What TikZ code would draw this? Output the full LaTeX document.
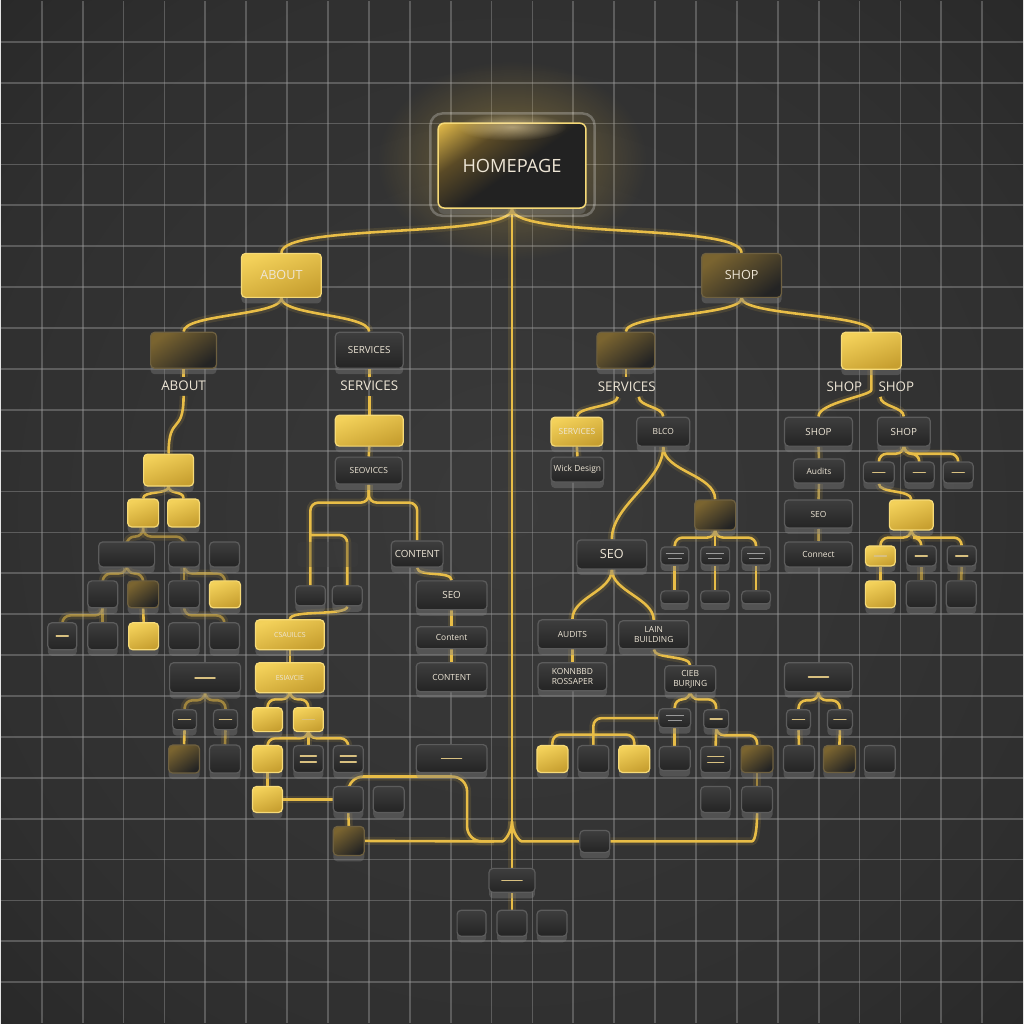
\documentclass[tikz,border=0pt]{standalone}
\usepackage{fontspec}
\setmainfont{Open Sans}
\usetikzlibrary{shadows,fadings}
\definecolor{bgin}{HTML}{3A3A3A}
\definecolor{bgmid}{HTML}{2F2F2F}
\definecolor{bgout}{HTML}{1C1C1C}
\definecolor{gridc}{HTML}{9A9A9A}
\definecolor{wirec}{HTML}{E8BD47}
\definecolor{txt}{HTML}{EEE6D6}
\definecolor{dkA}{HTML}{3E3E3E}
\definecolor{dkB}{HTML}{242424}
\definecolor{dkE}{HTML}{5C5C5C}
\definecolor{gdA}{HTML}{F3D15A}
\definecolor{gdB}{HTML}{C79F30}
\definecolor{gdE}{HTML}{F6DA78}
\definecolor{glA}{HTML}{7A6430}
\definecolor{glE}{HTML}{6E6040}
\definecolor{hmA}{HTML}{E0B848}
\definecolor{hmM}{HTML}{5A4A26}
\definecolor{hmB}{HTML}{222222}
\definecolor{dashc}{HTML}{D8C080}
\pgfdeclareradialshading{vign}{\pgfpoint{0bp}{0bp}}{color(0bp)=(bgin); color(28bp)=(bgmid); color(52bp)=(bgout); color(72bp)=(bgout)}
\pgfdeclareverticalshading{homeshade}{100bp}{color(0bp)=(hmB); color(48bp)=(hmB); color(66bp)=(hmM); color(84bp)=(hmA); color(100bp)=(hmA)}
\tikzfading[name=glowfade, inner color=transparent!0, outer color=transparent!100]
\pgfdeclarelayer{back}
\pgfdeclarelayer{wires}
\pgfsetlayers{back,wires,main}

\begin{document}
\begin{tikzpicture}[x=0.1mm,y=-0.1mm,
        box/.style={rectangle,rounded corners=0.4mm,inner sep=0pt,align=center,text=txt,
            font=\fontsize{2.8}{3.2}\selectfont,
            drop shadow={shadow xshift=0mm,shadow yshift=-0.6mm,opacity=0.4}},
        sz/.style 2 args={minimum width=#1*0.1mm,minimum height=#2*0.1mm},
        dbox/.style={box,top color=dkA,bottom color=dkB,draw=dkE,line width=0.12mm},
        gbox/.style={box,top color=gdA,bottom color=gdB,shading angle=20,draw=gdE,line width=0.12mm},
        sbox/.style={box,top color=glA,bottom color=dkB,shading angle=35,draw=glE,line width=0.12mm},
        hbox/.style={box,rounded corners=0.6mm,shade,shading=homeshade,shading angle=35,
            draw=gdE,line width=0.15mm,font=\fontsize{5.2}{6}\selectfont},
        mid/.style={font=\fontsize{3.6}{4}\selectfont},
        sm/.style={font=\fontsize{2.4}{2.8}\selectfont},
        wee/.style={font=\fontsize{2}{2.4}\selectfont},
        lab/.style={inner sep=0.4mm,text=txt,font=\fontsize{3.8}{4.2}\selectfont},
        wire/.style={draw=wirec,line width=0.26mm,rounded corners=0.8mm,
            preaction={draw=wirec,line width=0.8mm,opacity=0.12}},
        dimwire/.style={wire,opacity=0.55},
        gridln/.style={draw=gridc,line width=0.18mm,opacity=0.42},
        dashln/.style={draw=dashc,line width=0.16mm,line cap=round},
        weeln/.style={draw=gridc,line width=0.1mm},
        br/.style={to path={.. controls +(0,#1) and +(0,-#1) .. (\tikztotarget) \tikztonodes}},
        br/.default=15,
        ob/.style={to path={-- ++(0,#1) -| (\tikztotarget) \tikztonodes}},
        ob/.default=7
        ]
        \begin{pgfonlayer}{back}
        \shade[shading=vign] (0,0) rectangle (1024,1024);
        \foreach \k in {1,...,24} {
            \draw[gridln] (\k*40.96,0) -- (\k*40.96,1024);
            \draw[gridln] (0,\k*40.96) -- (1024,\k*40.96);
        }
        \fill[wirec,opacity=0.4,path fading=glowfade] (512,160) ellipse (135 and 100);
        \end{pgfonlayer}
        \useasboundingbox (0,0) rectangle (1024,1024);

        % top
        \node[hbox,sz={148}{85}] (home) at (512,165) {HOMEPAGE};
        \draw[white,opacity=0.25,line width=0.25mm,rounded corners=1.2mm]
            ([xshift=-0.7mm,yshift=0.9mm]home.north west) rectangle ([xshift=0.8mm,yshift=-0.7mm]home.south east);
        \fill[wirec!40!white,opacity=0.55,path fading=glowfade] (512,126) ellipse (55 and 14);
        \node[gbox,sz={80}{44},mid] (about) at (281,275) {ABOUT};
        \node[sbox,sz={80}{44},mid] (shop) at (742,275) {SHOP};

        % about branch
        \node[sbox,sz={66}{36}] (ab) at (183,350) {};
        \node[lab] (abl) at (183,386) {ABOUT};
        \node[dbox,sz={68}{36}] (sv) at (369,350) {SERVICES};
        \node[lab] (svl) at (369,386) {SERVICES};
        \node[gbox,sz={50}{32}] (ag) at (168,470) {};
        \node[gbox,sz={31}{28}] (ag1) at (142.5,513) {};
        \node[gbox,sz={32}{28}] (ag2) at (183,513) {};
        \node[dbox,sz={56}{25}] (rw1) at (126,554.5) {};
        \node[dbox,sz={31}{25}] (rw2) at (183.5,554.5) {};
        \node[dbox,sz={30}{25}] (rw3) at (224,554.5) {};
        \node[dbox,sz={30}{27}] (q1) at (102,594.5) {};
        \node[sbox,sz={31}{27}] (q2) at (142.5,594.5) {};
        \node[dbox,sz={31}{27}] (q3) at (183.5,594.5) {};
        \node[gbox,sz={31}{27}] (q4) at (224.5,594.5) {};
        \node[dbox,sz={29}{27}] (p1) at (61.5,636.5) {};
        \node[dbox,sz={30}{27}] (p2) at (102,636.5) {};
        \node[gbox,sz={30}{27}] (p3) at (143,636.5) {};
        \node[dbox,sz={31}{27}] (p4) at (183.5,636.5) {};
        \node[dbox,sz={30}{27}] (p5) at (224,636.5) {};

        % services branch
        \node[gbox,sz={68}{31}] (sg) at (369,430.5) {};
        \node[dbox,sz={67}{27},sm] (sd) at (368.5,470.5) {SEOVICCS};
        \node[rectangle,rounded corners=0.4mm,fill=dkA,fill opacity=0.35,sz={61}{25}] (fb) at (327.5,554.5) {};
        \node[dbox,sz={30}{20}] (k1) at (310,596) {};
        \node[dbox,sz={30}{20}] (k2) at (347,596) {};
        \node[dbox,sz={52}{26}] (ct) at (417,554) {CONTENT};
        \node[dbox,sz={71}{29}] (so) at (451.5,595.5) {SEO};
        \node[dbox,sz={71}{22},sm] (cm) at (451.5,638) {Content};
        \node[dbox,sz={71}{29},sm] (cc) at (451.5,677.5) {CONTENT};
        \node[gbox,sz={69}{30},wee] (lg1) at (289.5,635) {CSAUILCS};
        \node[gbox,sz={69}{30},wee] (lg2) at (289.5,678) {ESIAVCIE};
        \node[dbox,sz={71}{30}] (dk) at (204.5,678) {};
        \node[dbox,sz={24}{20}] (sm1) at (184,720) {};
        \node[dbox,sz={24}{20}] (sm2) at (225,720) {};
        \node[sbox,sz={31}{28}] (b1) at (183.5,759.5) {};
        \node[dbox,sz={31}{28}] (b2) at (224.5,759.5) {};
        \node[gbox,sz={30}{24}] (g3a) at (267,720) {};
        \node[gbox,sz={30}{24}] (g3b) at (308,720) {};
        \node[gbox,sz={30}{27}] (b3) at (267,759.5) {};
        \node[dbox,sz={30}{27}] (b4) at (308,759.5) {};
        \node[dbox,sz={30}{27}] (b5) at (348,759.5) {};
        \node[gbox,sz={30}{26}] (b6) at (267,800) {};
        \node[dbox,sz={30}{26}] (b7) at (348,800) {};
        \node[dbox,sz={31}{26}] (b8) at (388.5,800) {};
        \node[sbox,sz={31}{29}] (b9) at (348.5,841.5) {};
        \node[dbox,sz={71}{28}] (c4) at (451.5,759) {};

        % hub
        \node[dbox,sz={46}{24}] (hub) at (512,881) {};
        \node[dbox,sz={29}{26}] (bt1) at (471.5,924) {};
        \node[dbox,sz={30}{26}] (bt2) at (512,924) {};
        \node[dbox,sz={30}{26}] (bt3) at (552,924) {};
        \node[dbox,sz={30}{22}] (mb) at (595,842) {};
        \coordinate (jt) at (512,822);
        \coordinate (jl) at (494,842);
        \coordinate (jr) at (530,842);
        \coordinate (rr) at (744,842);
        \coordinate (lv) at (467,777);
        \coordinate (kj) at (310,535);

        % shop branch
        \node[sbox,sz={58}{36}] (sv2) at (626,350) {};
        \node[lab] (sv2l) at (627,387) {SERVICES};
        \node[gbox,sz={60}{37}] (sg2) at (872,350.5) {};
        \node[gbox,sz={52}{29},sm] (ws) at (577,431.5) {SERVICES};
        \node[dbox,sz={53}{29},sm] (bl) at (663.5,431.5) {BLCO};
        \node[dbox,sz={53}{25},sm] (wd) at (577.5,469.5) {Wick Design};
        \node[dbox,sz={70}{29},mid] (seo) at (612,554.5) {SEO};
        \node[sbox,sz={41}{30}] (gl) at (715.5,515) {};
        \node[dbox,sz={28}{18}] (t1) at (675,556) {};
        \node[dbox,sz={29}{18}] (t2) at (715.5,556) {};
        \node[dbox,sz={29}{18}] (t3) at (756.5,556) {};
        \node[dbox,sz={28}{13}] (u1) at (675,597.5) {};
        \node[dbox,sz={29}{13}] (u2) at (715.5,597.5) {};
        \node[dbox,sz={29}{13}] (u3) at (756.5,597.5) {};
        \node[dbox,sz={69}{29},sm] (au) at (572.5,634.5) {AUDITS};
        \node[dbox,sz={70}{28},sm] (lb) at (654,635) {LAIN\\BUILDING};
        \node[dbox,sz={69}{28},sm] (kr) at (572.5,677) {KONNBBD\\ROSSAPER};
        \node[dbox,sz={51}{27},sm] (cb) at (690.5,679.5) {CIEB\\BURJING};
        \node[dbox,sz={32}{19}] (tt) at (675,718.5) {};
        \node[dbox,sz={25}{19}] (td) at (716.5,719.5) {};
        \node[gbox,sz={31}{27}] (g4) at (552.5,759.5) {};
        \node[dbox,sz={31}{27}] (g5) at (593.5,759.5) {};
        \node[gbox,sz={31}{27}] (g6) at (634.5,759.5) {};
        \node[dbox,sz={31}{24}] (v1) at (675,759) {};
        \node[dbox,sz={30}{26}] (v2) at (716,760) {};
        \node[sbox,sz={32}{27}] (v3) at (757.5,759.5) {};
        \node[dbox,sz={30}{26}] (rb1) at (716,800) {};
        \node[dbox,sz={31}{26}] (rb2) at (757.5,800) {};
        \coordinate (gb) at (593.5,735);

        \node[lab] (sl1) at (845,387) {SHOP};
        \node[lab] (sl2) at (897,387) {SHOP};
        \node[dbox,sz={68}{29}] (sh1) at (819,431.5) {SHOP};
        \node[dbox,sz={53}{29}] (sh2) at (904.5,431.5) {SHOP};
        \node[dbox,sz={51}{24},sm] (ad) at (819.5,471) {Audits};
        \node[dbox,sz={68}{28},sm] (se) at (819,514) {SEO};
        \node[dbox,sz={68}{25},sm] (cn) at (819,554.5) {Connect};
        \node[dbox,sz={31}{21}] (d1) at (879.5,472.5) {};
        \node[dbox,sz={30}{21}] (d2) at (920,472.5) {};
        \node[dbox,sz={30}{21}] (d3) at (959,472.5) {};
        \node[gbox,sz={44}{30}] (sg3) at (912,515) {};
        \node[gbox,sz={30}{20}] (e1) at (881,556) {};
        \node[dbox,sz={30}{20}] (e2) at (922,556) {};
        \node[dbox,sz={29}{20}] (e3) at (962.5,556) {};
        \node[gbox,sz={30}{27}] (f1) at (881,594.5) {};
        \node[dbox,sz={30}{27}] (f2) at (922,594.5) {};
        \node[dbox,sz={30}{27}] (f3) at (962,594.5) {};
        \node[dbox,sz={68}{29}] (rb) at (819,677.5) {};
        \node[dbox,sz={24}{20}] (m1) at (799,720) {};
        \node[dbox,sz={25}{20}] (m2) at (840.5,720) {};
        \node[dbox,sz={31}{27}] (n1) at (799.5,759.5) {};
        \node[sbox,sz={32}{27}] (n2) at (840,759.5) {};
        \node[dbox,sz={31}{27}] (n3) at (880.5,759.5) {};

        % marks inside boxes
        \foreach \n in {p1,sm1,sm2,g3b,e1,e2,e3,d1,d2,d3,td,m1,m2}
            \draw[dashln] ([xshift=-0.6mm]\n.center) -- ([xshift=0.6mm]\n.center);
        \foreach \n in {dk,rb,c4,hub}
            \draw[dashln] ([xshift=-1mm]\n.center) -- ([xshift=1mm]\n.center);
        \foreach \n in {b4,b5,v2} {
            \draw[dashln] ([xshift=-0.8mm,yshift=0.3mm]\n.center) -- ([xshift=0.8mm,yshift=0.3mm]\n.center);
            \draw[dashln] ([xshift=-0.8mm,yshift=-0.3mm]\n.center) -- ([xshift=0.8mm,yshift=-0.3mm]\n.center);
        }
        \foreach \n in {t1,t2,t3,tt} {
            \draw[weeln] ([xshift=-0.9mm,yshift=0.25mm]\n.center) -- ([xshift=0.9mm,yshift=0.25mm]\n.center);
            \draw[weeln] ([xshift=-0.7mm,yshift=-0.25mm]\n.center) -- ([xshift=0.7mm,yshift=-0.25mm]\n.center);
        }

        \begin{pgfonlayer}{wires}
        \draw[wire] (home.south) to[br=30] (about.north);
        \draw[wire] (home.south) to[br=30] (shop.north);
        \draw[wire] (home.south) -- (hub.north);
        \draw[wire] (hub.south) -- (bt2.north);
        \draw[wire] (about.south) to[br=18] (ab.north);
        \draw[wire] (about.south) to[br=18] (sv.north);
        \draw[wire] (ab.south) -- ++(0,8);
        \draw[wire] (abl.south) to[br=40] (ag.north);
        \draw[wire] (ag.south) to[br=8] (ag1.north);
        \draw[wire] (ag.south) to[br=8] (ag2.north);
        \draw[dimwire] (ag1.south) to[ob=9] (rw1.north);
        \draw[dimwire] (ag1.south) to[ob=9] (rw2.north);
        \draw[dimwire] (rw1.south) to[ob=6] (q1.north);
        \draw[dimwire] (rw1.south) to[ob=6] (q2.north);
        \draw[dimwire] (rw2.south) -- (q3.north);
        \draw[dimwire] (rw2.south) to[ob=6] (q4.north);
        \draw[wire] (q2.south) -- (p3.north);
        \draw[dimwire] (q1.south) to[ob=7] (p1.north);
        \draw[dimwire] (q1.south) -- (p2.north);
        \draw[dimwire] (q3.south) to[ob=7] (p5.north);

        \draw[wire] (sv.south) -- ++(0,8);
        \draw[wire] (svl.south) -- (sg.north);
        \draw[wire] (sg.south) -- (sd.north);
        \draw[wire] (sd.south) to[ob=18] (k1.north);
        \draw[wire] (sd.south) to[ob=18] (ct.north);
        \draw[wire] (kj) -| (k2.north);
        \draw[wire] (ct.south) to[br=10] (so.north);
        \draw[wire] (so.south) -- (cm.north);
        \draw[wire] (cm.south) -- (cc.north);
        \draw[wire] (k2.south) to[br=10] (lg1.north);
        \draw[wire] (lg1.south) -- (lg2.north);
        \draw[wire] (lg2.south) to[ob=6] (g3a.north);
        \draw[wire] (lg2.south) to[ob=6] (g3b.north);
        \draw[dimwire] (dk.south) to[ob=7] (sm1.north);
        \draw[dimwire] (dk.south) to[ob=7] (sm2.north);
        \draw[wire] (sm1.south) -- (b1.north);
        \draw[dimwire] (sm2.south) -- (b2.north);
        \draw[wire] (g3b.south) to[ob=6] (b3.north);
        \draw[wire] (g3b.south) -- (b4.north);
        \draw[wire] (g3b.south) to[ob=6] (b5.north);
        \draw[wire] (b3.south) -- (b6.north);
        \draw[wire] (b6.east) -- (b7.west);
        \draw[wire] (b7.south) -- (b9.north);
        \draw[wire,rounded corners=1.5mm] (b7.north) |- (lv) |- (jl);
        \draw[wire] (b9.east) -- (jl) to[out=0,in=-90] (jt);
        \draw[wire] (jt) to[out=-90,in=180] (jr) -- (mb.west);
        \draw[wire] (mb.east) -- (rr) to[out=0,in=-90] (rb2.south);

        \draw[wire] (shop.south) to[br=18] (sv2.north);
        \draw[wire] (shop.south) to[br=18] (sg2.north);
        \draw[wire] (sv2.south) -- ++(0,8);
        \draw[wire] ([xshift=-0.9mm]sv2l.south) to[br=10] (ws.north);
        \draw[wire] ([xshift=1.2mm]sv2l.south) to[br=10] (bl.north);
        \draw[wire] (ws.south) -- (wd.north);
        \draw[wire] (bl.south) to[br=35] (seo.north);
        \draw[wire] (bl.south) to[br=25] (gl.north);
        \draw[wire] (gl.south) to[ob=7] (t1.north);
        \draw[wire] (gl.south) -- (t2.north);
        \draw[wire] (gl.south) to[ob=7] (t3.north);
        \draw[wire] (t1.south) -- (u1.north);
        \draw[wire] (t2.south) -- (u2.north);
        \draw[wire] (t3.south) -- (u3.north);
        \draw[wire] (seo.south) to[br=22] (au.north);
        \draw[wire] (seo.south) to[br=22] (lb.north);
        \draw[wire] (au.south) -- (kr.north);
        \draw[wire] (lb.south) to[br=10] (cb.north);
        \draw[wire] (cb.south) to[ob=6] (tt.north);
        \draw[wire] (cb.south) to[ob=6] (td.north);
        \draw[wire] (tt.west) -| (g5.north);
        \draw[wire] (gb) -| (g4.north);
        \draw[wire] (gb) -| (g6.north);
        \draw[wire] (tt.south) -- (v1.north);
        \draw[wire] (td.south) -- (v2.north);
        \draw[wire] (td.south) to[ob=6] (v3.north);
        \draw[dimwire] (v3.south) -- (rb2.north);

        \draw[wire] (sg2.south) -- ++(0,12) to[br=14] (sh1.north);
        \draw[wire] ([xshift=-1.6mm]sl2.south) to[br=10] (sh2.north);
        \draw[dimwire] (sh1.south) -- (ad.north);
        \draw[dimwire] (ad.south) -- (se.north);
        \draw[dimwire] (se.south) -- (cn.north);
        \draw[wire] (sh2.south) to[ob=7] (d1.north);
        \draw[wire] (sh2.south) to[ob=7] (d2.north);
        \draw[wire] (sh2.south) to[ob=7] (d3.north);
        \draw[wire] (d1.south) to[br=10] (sg3.north);
        \draw[wire] (sg3.south) to[ob=7] (e1.north);
        \draw[wire] (sg3.south) to[ob=7] (e2.north);
        \draw[wire] (sg3.south) to[ob=7] (e3.north);
        \draw[wire] (e1.south) -- (f1.north);
        \draw[dimwire] (e2.south) -- (f2.north);
        \draw[dimwire] (e3.south) -- (f3.north);
        \draw[wire] (rb.south) to[ob=8] (m1.north);
        \draw[wire] (rb.south) to[ob=8] (m2.north);
        \draw[wire] (m1.south) -- (n1.north);
        \draw[wire] (m2.south) -- (n2.north);
        \end{pgfonlayer}
    \end{tikzpicture}
\end{document}
